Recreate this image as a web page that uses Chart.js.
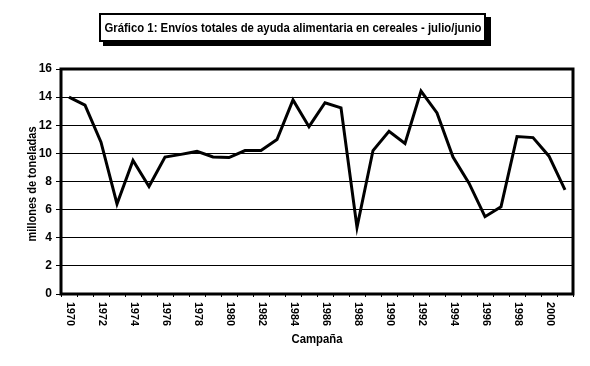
<!DOCTYPE html>
<html>
<head>
<meta charset="utf-8">
<script src="https://cdn.jsdelivr.net/npm/chart.js@4.4.1/dist/chart.umd.min.js"></script>
<style>
  html, body { margin: 0; padding: 0; background: #fff; }
  #wrap { width: 590px; height: 366px; position: relative; }
</style>
</head>
<body>
<div id="wrap"><canvas id="c" width="590" height="366"></canvas></div>
<script>
const chartTitle = "Gráfico 1: Envíos totales de ayuda alimentaria en cereales - julio/junio";
const yAxisTitle = "millones de toneladas";
const xAxisTitle = "Campaña";
const years = ["1970","1971","1972","1973","1974","1975","1976","1977","1978","1979",
               "1980","1981","1982","1983","1984","1985","1986","1987","1988","1989",
               "1990","1991","1992","1993","1994","1995","1996","1997","1998","1999",
               "2000","2001"];
const tickLabels = ["1970","1972","1974","1976","1978","1980","1982","1984","1986",
                    "1988","1990","1992","1994","1996","1998","2000"];
const shipments = [14.0, 13.43, 10.8, 6.4, 9.5, 7.64, 9.74, 9.93, 10.14, 9.74,
                   9.7, 10.2, 10.2, 10.98, 13.8, 11.9, 13.6, 13.24, 4.74, 10.2,
                   11.57, 10.7, 14.43, 12.88, 9.74, 7.88, 5.5, 6.2, 11.2, 11.12,
                   9.8, 7.4];
const yTicks = [0, 2, 4, 6, 8, 10, 12, 14, 16];

const FONT = '"Liberation Sans", Arial, sans-serif';

const decor = {
  id: 'decor',
  beforeDraw(chart) {
    const ctx = chart.ctx;
    ctx.save();
    ctx.fillStyle = '#fff';
    ctx.fillRect(0, 0, chart.width, chart.height);
    ctx.restore();
  },
  afterDraw(chart) {
    const ctx = chart.ctx;
    const a = chart.chartArea;
    ctx.save();
    // plot frame
    ctx.strokeStyle = '#000';
    ctx.lineWidth = 3;
    ctx.strokeRect(a.left, a.top, a.right - a.left, a.bottom - a.top);

    // title box with shadow
    ctx.fillStyle = '#000';
    ctx.fillRect(103, 17, 388, 29);
    ctx.fillStyle = '#fff';
    ctx.fillRect(99, 13, 386, 29);
    ctx.lineWidth = 2;
    ctx.strokeStyle = '#000';
    ctx.strokeRect(100, 14, 385, 27);
    ctx.fillStyle = '#000';
    ctx.font = 'bold 13px ' + FONT;
    ctx.textAlign = 'center';
    ctx.textBaseline = 'middle';
    ctx.fillText(chartTitle, 293, 28, 377);

    // y axis title
    ctx.save();
    ctx.translate(33, 184);
    ctx.rotate(-Math.PI / 2);
    ctx.font = 'bold 12px ' + FONT;
    ctx.textAlign = 'center';
    ctx.textBaseline = 'middle';
    ctx.fillText(yAxisTitle, 0, 0, 115);
    ctx.restore();

    // x tick labels (reading top to bottom)
    const xs = chart.scales.x;
    ctx.font = 'bold 11px ' + FONT;
    ctx.textAlign = 'left';
    ctx.textBaseline = 'middle';
    tickLabels.forEach(lbl => {
      const idx = years.indexOf(lbl);
      const px = xs.getPixelForValue(idx) + 1;
      ctx.save();
      ctx.translate(px, 302);
      ctx.rotate(Math.PI / 2);
      ctx.fillText(lbl, 0, 0, 24);
      ctx.restore();
    });

    // x axis title
    ctx.font = 'bold 13px ' + FONT;
    ctx.textAlign = 'center';
    ctx.textBaseline = 'middle';
    ctx.fillText(xAxisTitle, 317, 339, 51);
    ctx.restore();
  }
};

new Chart(document.getElementById('c'), {
  type: 'line',
  data: {
    labels: years,
    datasets: [{
      data: shipments,
      borderColor: '#000',
      borderWidth: 3,
      pointRadius: 0,
      tension: 0,
      fill: false
    }]
  },
  options: {
    responsive: false,
    animation: false,
    devicePixelRatio: 1,
    layout: { padding: { left: 0, right: 17, top: 69, bottom: 0 } },
    plugins: { legend: { display: false }, title: { display: false }, tooltip: { enabled: false } },
    scales: {
      x: {
        type: 'category',
        offset: true,
        grid: { display: true, drawOnChartArea: false, drawTicks: true, tickLength: 3, offset: true, color: '#000', lineWidth: 1 },
        border: { display: false },
        ticks: { display: false, autoSkip: false },
        afterFit(s) { s.height = 72; }
      },
      y: {
        min: 0, max: 16,
        afterBuildTicks(s) { s.ticks = yTicks.map(v => ({ value: v })); },
        grid: { color: '#000', lineWidth: 1, tickLength: 5, drawTicks: true },
        border: { display: false },
        ticks: {
          color: '#000',
          padding: 4,
          font: { family: FONT, size: 12, weight: 'bold' }
        },
        afterFit(s) { s.width = 61; }
      }
    }
  },
  plugins: [decor]
});
</script>
</body>
</html>
